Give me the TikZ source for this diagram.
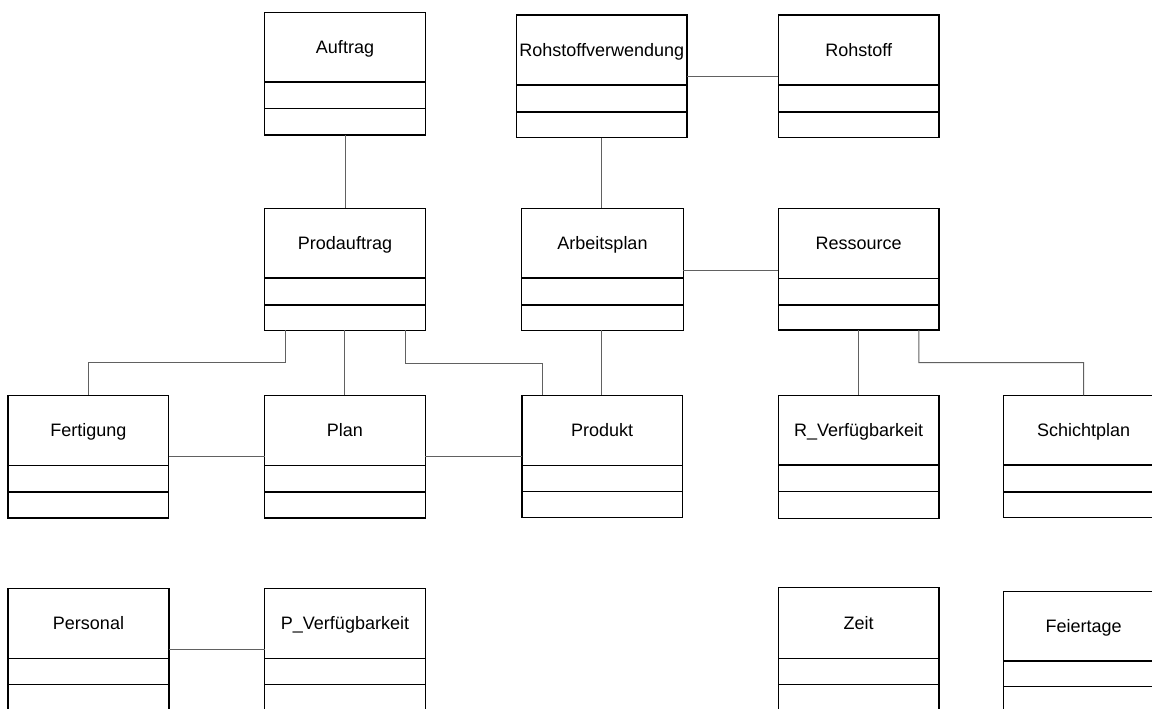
\documentclass[tikz,border=0pt]{standalone}
\usepackage{fontspec}
\setmainfont{Liberation Sans}
\tikzset{
  classbox/.style={draw=black, line width=1.3pt, rectangle, inner sep=0pt, outer sep=0pt, anchor=north west},
  classline/.style={draw=black, line width=1.3pt},
  classtitle/.style={inner sep=0pt, anchor=base, font=\fontsize{18}{21}\selectfont},
  assoc/.style={draw=black!62, line width=1pt},
}
% #1 name, #2 left, #3 top, #4 right, #5 first divider, #6 second divider, #7 bottom, #8 title
\newcommand{\umlclass}[8]{%
  \node[classbox, minimum width={(#4-#2)*1pt}, minimum height={(#7-#3)*1pt}] (#1) at (#2,#3) {};
  \draw[classline] (#2,#5) -- (#4,#5) (#2,#6) -- (#4,#6);
  \node[classtitle] (#1-t) at ({(#2+#4)/2},{(#3+#5)/2+6.5}) {#8};
}
\begin{document}
\begin{tikzpicture}[x=1pt, y=-1pt]
\useasboundingbox (0,0) rectangle (1152,709);
\clip (0,0) rectangle (1152,709);
\fill[white] (0,0) rectangle (1152,709);

% top row
\umlclass{auftrag}{264.3}{12.3}{425.7}{82}{108.7}{135}{Auftrag}
\umlclass{rverw}{516.7}{15}{687}{85}{112}{137.7}{Rohstoffverwendung}
\umlclass{rohstoff}{778.3}{15}{939}{85}{112}{137.3}{Rohstoff}

% second row
\umlclass{prodauftrag}{264.3}{208.3}{425.7}{278}{305}{330.3}{Prodauftrag}
\umlclass{arbeitsplan}{521.7}{208.3}{683.3}{278}{305}{330.3}{Arbeitsplan}
\umlclass{ressource}{778.3}{208.3}{939}{278.3}{305}{330}{Ressource}

% third row
\umlclass{fertigung}{8}{395.3}{168.7}{465.3}{492}{518}{Fertigung}
\umlclass{plan}{264.7}{395.3}{425.3}{465.3}{492}{518}{Plan}
\umlclass{produkt}{522}{395.3}{682.3}{465.3}{491.7}{517.7}{Produkt}
\umlclass{rverf}{778.3}{395.3}{939}{465}{491.7}{518.3}{R\_Verfügbarkeit}
\umlclass{schicht}{1003.3}{395.3}{1164}{465}{492}{517.3}{Schichtplan}

% bottom row
\umlclass{personal}{8}{588.3}{169}{658.3}{684.7}{711.5}{Personal}
\umlclass{pverf}{264.7}{588.3}{425.3}{658.3}{684.7}{711.5}{P\_Verfügbarkeit}
\umlclass{zeit}{778.3}{587.7}{939}{658.3}{684.7}{711.5}{Zeit}
\umlclass{feiertage}{1003.3}{591.7}{1164}{661}{686.7}{715}{Feiertage}

% bend points of the routed associations
\coordinate (bendF) at (88.3,362.7);
\coordinate (bendP) at (542.3,363);
\coordinate (bendS) at (1083.6,362.7);

% associations
\draw[assoc] (auftrag.south) -- (auftrag.south |- prodauftrag.north);
\draw[assoc] ([xshift=-0.1pt]rverw.south) -- ([xshift=-0.1pt]rverw.south |- arbeitsplan.north);
\draw[assoc] (rverw.east |- 0,76.7) -- (rohstoff.west |- 0,76.7);
\draw[assoc] (arbeitsplan.east |- 0,270) -- (ressource.west |- 0,270);
\draw[assoc] ([xshift=-0.8pt]arbeitsplan.south) -- ([xshift=-0.8pt]arbeitsplan.south |- produkt.north);

\draw[assoc] ([xshift=-60pt]prodauftrag.south) |- (bendF) -- (bendF |- fertigung.north);
\draw[assoc] ([xshift=-0.5pt]prodauftrag.south) -- ([xshift=-0.5pt]prodauftrag.south |- plan.north);
\draw[assoc] ([xshift=60.3pt]prodauftrag.south) |- (bendP) -- (bendP |- produkt.north);
\draw[assoc] (fertigung.east |- 0,456) -- (plan.west |- 0,456);
\draw[assoc] (plan.east |- 0,456.7) -- (produkt.west |- 0,456.7);

\draw[assoc] ([xshift=0.1pt]ressource.south) -- ([xshift=0.1pt]ressource.south |- rverf.north);
\draw[assoc] ([xshift=60.1pt]ressource.south) |- (bendS) -- (schicht.north);

\draw[assoc] (personal.east |- 0,649.3) -- (pverf.west |- 0,649.3);
\end{tikzpicture}
\end{document}
